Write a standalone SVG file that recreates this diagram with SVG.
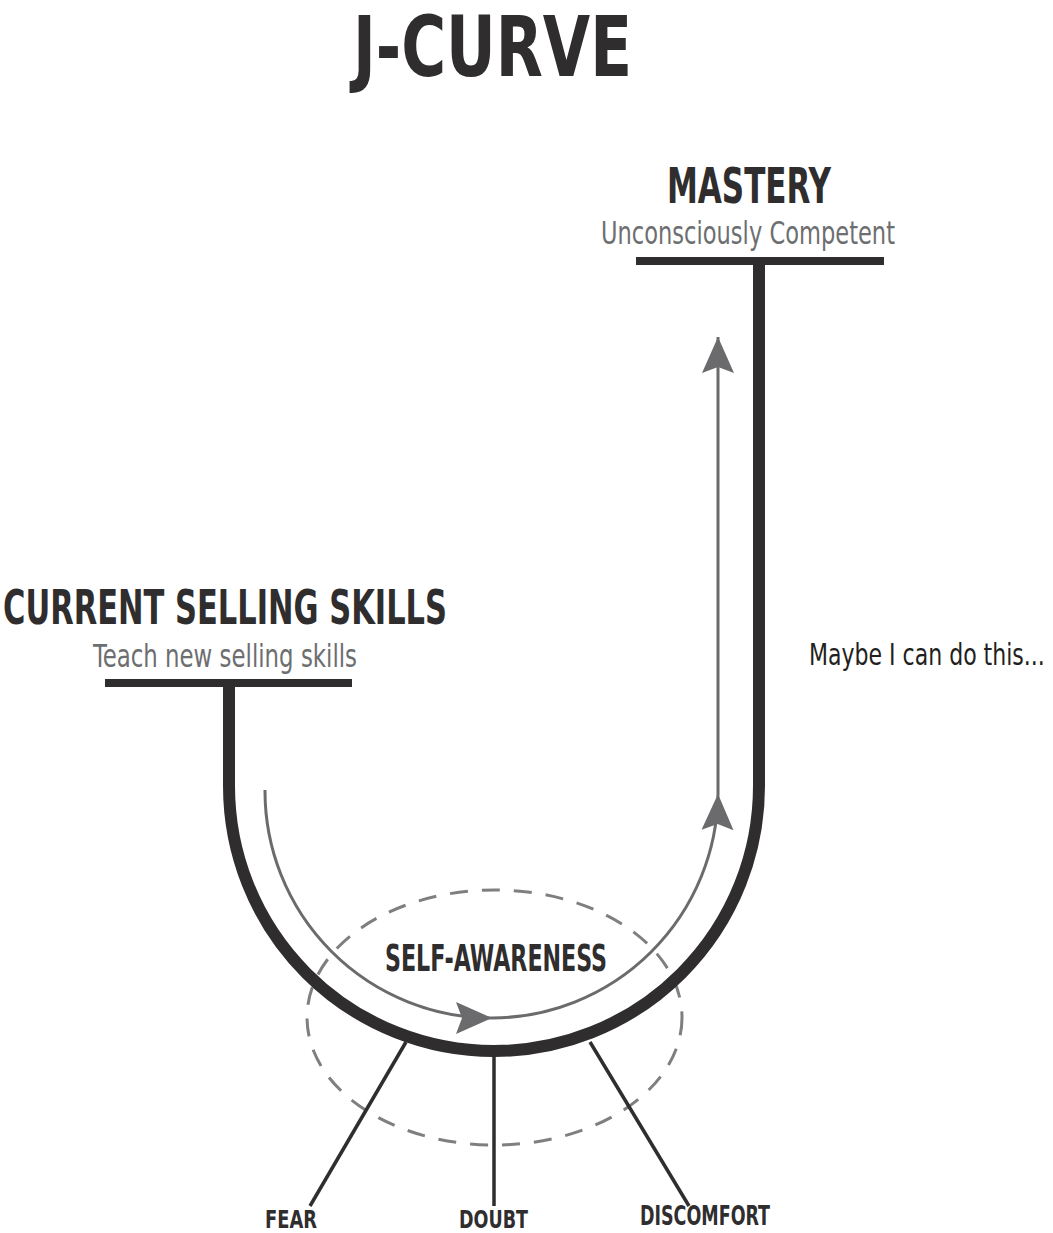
<svg xmlns="http://www.w3.org/2000/svg" width="1053" height="1233" viewBox="0 0 1053 1233">
<style>
.bold{font-family:"Liberation Sans Narrow","DejaVu Sans Condensed","Liberation Sans",sans-serif;font-weight:bold;fill:#2f2d2e}
.reg{font-family:"Liberation Sans Narrow","DejaVu Sans Condensed","Liberation Sans",sans-serif;fill:#6d6e70}
.thick{fill:none;stroke:#2f2d2e;stroke-width:12}
.bar{stroke:#2f2d2e;stroke-width:8}
.flow{fill:none;stroke:#6b6b6d;stroke-width:3}
.spoke{stroke:#2f2d2e;stroke-width:3.5}
.dash{fill:none;stroke:#7f7f81;stroke-width:3;stroke-dasharray:18 14}
</style>
<defs>
<marker id="ah" markerUnits="userSpaceOnUse" viewBox="-37 -17 38 34" refX="0" refY="0" markerWidth="38" markerHeight="34" orient="auto">
<path d="M0,0 L-36,-16 L-30,0 L-36,16 Z" fill="#6b6b6d"/>
</marker>
</defs>
<rect width="1053" height="1233" fill="#ffffff"/>
<g id="connectors">
<ellipse class="dash" cx="494.5" cy="1017.5" rx="187.5" ry="127.5"/>
<path class="flow" d="M265,790 V791 A227,227 0 0 0 492,1018" marker-end="url(#ah)"/>
<path class="flow" d="M492,1018 A227,227 0 0 0 718,794" marker-end="url(#ah)"/>
<path class="flow" d="M718,794 V337" marker-end="url(#ah)"/>
<path class="thick" d="M229,683 V786 A265,265 0 0 0 759,786 V261"/>
<line class="bar" x1="105" y1="683" x2="352" y2="683"/>
<line class="bar" x1="636" y1="261" x2="884" y2="261"/>
<line class="spoke" x1="406" y1="1042" x2="310" y2="1206"/>
<line class="spoke" x1="494" y1="1055" x2="494" y2="1206"/>
<line class="spoke" x1="590" y1="1042" x2="689" y2="1206"/>
</g>
<g id="title"><text class="bold" x="353" y="76" font-size="84" textLength="279" lengthAdjust="spacingAndGlyphs">J-CURVE</text></g>
<g id="mastery">
<text class="bold" x="667" y="203" font-size="50" textLength="164" lengthAdjust="spacingAndGlyphs">MASTERY</text>
<text class="reg" x="601" y="244" font-size="32" textLength="294" lengthAdjust="spacingAndGlyphs">Unconsciously Competent</text>
</g>
<g id="current">
<text class="bold" x="3" y="624" font-size="48" textLength="444" lengthAdjust="spacingAndGlyphs">CURRENT SELLING SKILLS</text>
<text class="reg" x="93" y="667" font-size="32" textLength="264" lengthAdjust="spacingAndGlyphs">Teach new selling skills</text>
</g>
<g id="maybe"><text class="reg" transform="translate(809,665) scale(1,1.2)" x="0" y="0" font-size="24.5" style="fill:#231f20">Maybe I can do this...</text></g>
<g id="self-awareness"><text class="bold" x="385" y="971" font-size="37" textLength="222" lengthAdjust="spacingAndGlyphs">SELF-AWARENESS</text></g>
<g id="fear"><text class="bold" x="265" y="1228" font-size="25" textLength="52" lengthAdjust="spacingAndGlyphs">FEAR</text></g>
<g id="doubt"><text class="bold" x="459" y="1228" font-size="25" textLength="69" lengthAdjust="spacingAndGlyphs">DOUBT</text></g>
<g id="discomfort"><text class="bold" x="640" y="1225" font-size="26" textLength="130" lengthAdjust="spacingAndGlyphs">DISCOMFORT</text></g>
</svg>
